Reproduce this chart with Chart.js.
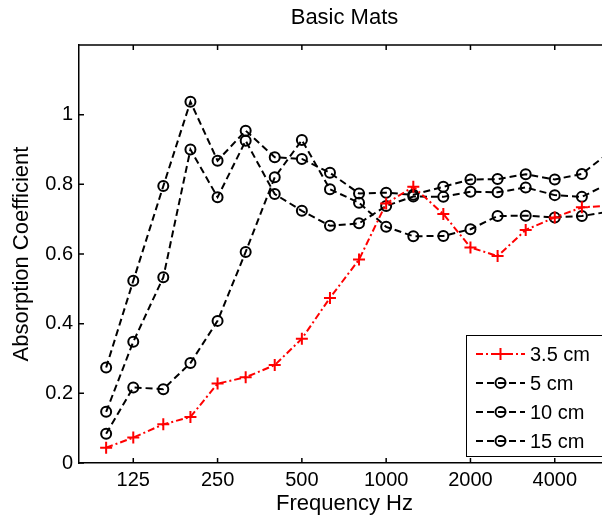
<!DOCTYPE html>
<html>
<head>
<meta charset="utf-8">
<script src="https://cdn.jsdelivr.net/npm/chart.js@4.4.0/dist/chart.umd.min.js"></script>
<style>
  html, body { margin: 0; padding: 0; background: #fff; }
  #wrap { width: 602px; height: 517px; overflow: hidden; position: relative; }
  #chart { position: absolute; left: 0; top: 0; }
</style>
</head>
<body>
<div id="wrap"><canvas id="chart" width="620" height="517"></canvas></div>
<script>
// third-octave band centres (Hz)
var freqs = [100, 125, 160, 200, 250, 315, 400, 500, 630, 800, 1000, 1250, 1600, 2000, 2500, 3150, 4000, 5000, 6300];

// absorption coefficient per mat thickness
var mat35 = [0.044, 0.073, 0.111, 0.132, 0.228, 0.246, 0.281, 0.357, 0.474, 0.584, 0.745, 0.793, 0.715, 0.619, 0.594, 0.669, 0.705, 0.734, 0.739];
var mat5  = [0.084, 0.217, 0.212, 0.287, 0.408, 0.606, 0.820, 0.927, 0.786, 0.747, 0.678, 0.651, 0.652, 0.671, 0.709, 0.710, 0.705, 0.709, 0.722];
var mat10 = [0.147, 0.348, 0.533, 0.900, 0.763, 0.925, 0.772, 0.724, 0.681, 0.688, 0.738, 0.765, 0.764, 0.779, 0.777, 0.791, 0.769, 0.764, 0.804];
var mat15 = [0.274, 0.523, 0.795, 1.037, 0.868, 0.954, 0.878, 0.873, 0.833, 0.774, 0.776, 0.770, 0.793, 0.814, 0.815, 0.829, 0.814, 0.830, 0.893];

var seriesNames = ['3.5 cm', '5 cm', '10 cm', '15 cm'];
var freqTicks = [125, 250, 500, 1000, 2000, 4000];
var yTicks = [0, 0.2, 0.4, 0.6, 0.8, 1];

Chart.defaults.font.family = '"Liberation Sans", Arial, Helvetica, sans-serif';
Chart.defaults.color = '#000';

function pts(vals) {
  return freqs.map(function (f, i) { return { x: f, y: vals[i] }; });
}

function blackSet(name, vals) {
  return {
    label: name,
    data: pts(vals),
    borderColor: '#000',
    borderWidth: 2,
    borderDash: [7, 4],
    pointStyle: 'circle',
    pointRadius: 5,
    pointBorderWidth: 2,
    pointBorderColor: '#000',
    pointBackgroundColor: 'rgba(0,0,0,0)',
    tension: 0
  };
}

// MATLAB style ticks pointing into the plot box, plus top frame line
var frameTicks = {
  id: 'frameTicks',
  afterDatasetsDraw: function (chart) {
    var ctx = chart.ctx, a = chart.chartArea;
    var xs = chart.scales.x, ys = chart.scales.y;
    ctx.save();
    ctx.strokeStyle = '#000';
    ctx.lineWidth = 1.5;
    ctx.beginPath();
    ctx.moveTo(a.left, a.top);
    ctx.lineTo(a.right, a.top);
    freqTicks.forEach(function (f) {
      var px = xs.getPixelForValue(f);
      ctx.moveTo(px, a.bottom); ctx.lineTo(px, a.bottom - 5);
      ctx.moveTo(px, a.top); ctx.lineTo(px, a.top + 5);
    });
    yTicks.forEach(function (v) {
      var py = ys.getPixelForValue(v);
      ctx.moveTo(a.left, py); ctx.lineTo(a.left + 5, py);
    });
    ctx.stroke();
    ctx.restore();
  }
};

// legend box in the lower right corner of the plot
var boxLegend = {
  id: 'boxLegend',
  afterDraw: function (chart) {
    var ctx = chart.ctx, a = chart.chartArea;
    var left = a.right - 144, top = a.bottom - 128;
    ctx.save();
    ctx.fillStyle = '#fff';
    ctx.fillRect(left, top, 137, 121);
    ctx.strokeStyle = '#000';
    ctx.lineWidth = 1;
    ctx.strokeRect(left + 0.5, top + 0.5, 137, 121);
    chart.data.datasets.forEach(function (ds, i) {
      var y = top + 19 + i * 29;
      var x0 = left + 10, x1 = left + 59, xm = (x0 + x1) / 2;
      ctx.strokeStyle = ds.borderColor;
      ctx.lineWidth = ds.borderWidth;
      ctx.setLineDash(ds.borderDash);
      ctx.beginPath();
      ctx.moveTo(x0, y); ctx.lineTo(x1, y);
      ctx.stroke();
      ctx.setLineDash([]);
      ctx.lineWidth = ds.pointBorderWidth;
      ctx.beginPath();
      if (ds.pointStyle === 'cross') {
        ctx.moveTo(xm - ds.pointRadius, y); ctx.lineTo(xm + ds.pointRadius, y);
        ctx.moveTo(xm, y - ds.pointRadius); ctx.lineTo(xm, y + ds.pointRadius);
      } else {
        ctx.arc(xm, y, ds.pointRadius, 0, Math.PI * 2);
      }
      ctx.stroke();
      ctx.fillStyle = '#000';
      ctx.font = '20px "Liberation Sans", Arial, sans-serif';
      ctx.textBaseline = 'middle';
      ctx.textAlign = 'left';
      ctx.fillText(ds.label, left + 64, y + 1);
    });
    ctx.restore();
  }
};

var ctx = document.getElementById('chart').getContext('2d');

new Chart(ctx, {
  type: 'line',
  data: {
    datasets: [
      {
        label: seriesNames[0],
        data: pts(mat35),
        borderColor: '#ff0000',
        borderWidth: 2,
        borderDash: [7, 3, 2, 3],
        pointStyle: 'cross',
        pointRadius: 6,
        pointBorderWidth: 2,
        pointBorderColor: '#ff0000',
        tension: 0
      },
      blackSet(seriesNames[1], mat5),
      blackSet(seriesNames[2], mat10),
      blackSet(seriesNames[3], mat15)
    ]
  },
  options: {
    responsive: false,
    animation: false,
    layout: { padding: { left: 0, right: 10, top: 0, bottom: 0 } },
    plugins: {
      legend: { display: false },
      tooltip: { enabled: false },
      title: {
        display: true,
        text: 'Basic Mats',
        fullSize: false,
        font: { size: 22, weight: 'normal' },
        padding: { top: 5, bottom: 13.6 }
      }
    },
    scales: {
      x: {
        type: 'logarithmic',
        min: 80,
        max: 6300,
        grid: { display: false, drawTicks: false },
        border: { display: true, color: '#000', width: 1.5 },
        afterBuildTicks: function (scale) {
          scale.ticks = freqTicks.map(function (v) { return { value: v }; });
        },
        afterFit: function (scale) { scale.height = 54; },
        ticks: {
          font: { size: 20 },
          padding: 5,
          maxRotation: 0,
          autoSkip: false,
          callback: function (v) { return String(v); }
        },
        title: {
          display: true,
          text: 'Frequency Hz',
          font: { size: 22 },
          padding: { top: 0, bottom: 0 }
        }
      },
      y: {
        min: 0,
        max: 1.2,
        grid: { display: false, drawTicks: false },
        border: { display: true, color: '#000', width: 1.5 },
        afterBuildTicks: function (scale) {
          scale.ticks = yTicks.map(function (v) { return { value: v }; });
        },
        afterFit: function (scale) { scale.width = 79; },
        ticks: {
          font: { size: 20 },
          padding: 6,
          callback: function (v) { return String(Number(v.toFixed(1))); }
        },
        title: {
          display: true,
          text: 'Absorption Coefficient',
          font: { size: 22 },
          padding: { top: 9, bottom: 0 }
        }
      }
    }
  },
  plugins: [frameTicks, boxLegend]
});
</script>
</body>
</html>
